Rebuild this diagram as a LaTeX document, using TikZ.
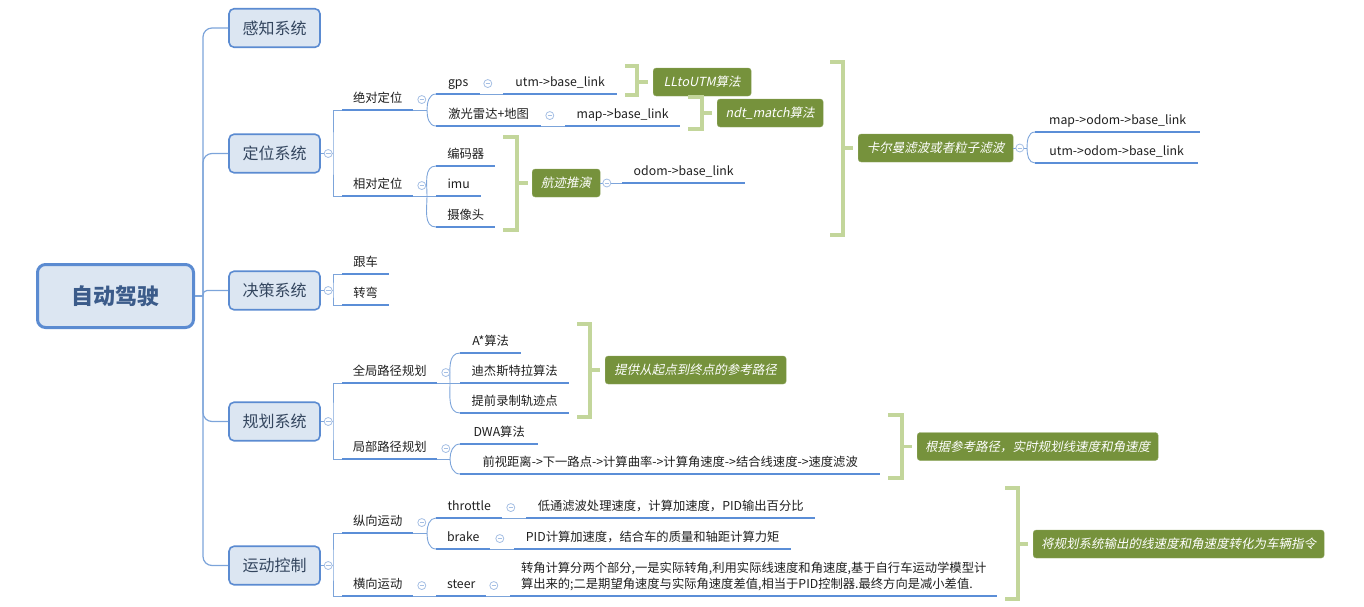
\documentclass[tikz,border=0pt]{standalone}
\usepackage{fontspec}
\setmainfont{Noto Sans CJK SC}
\newfontfamily\slfont[FakeSlant=0.2]{Noto Sans CJK SC}
\usetikzlibrary{positioning}
\definecolor{boxfill}{HTML}{DCE6F2}
\definecolor{boxline}{HTML}{5B8BD1}
\definecolor{rootblue}{HTML}{3B5B8A}
\definecolor{topicgray}{HTML}{33455E}
\definecolor{inkgray}{HTML}{1F1F1F}
\definecolor{linkblue}{HTML}{7CA4DA}
\definecolor{lineblue}{HTML}{5B8ED7}
\definecolor{foldblue}{HTML}{A5BFE4}
\definecolor{notegreen}{HTML}{76923C}
\definecolor{sage}{HTML}{C3D69B}

\begin{document}
\begin{tikzpicture}[
    x=1pt, y=-1pt,
    every node/.style={font=\fontsize{12.3}{16}\selectfont, text=inkgray},
    root/.style={draw=boxline, line width=3pt, rounded corners=8pt, fill=boxfill, minimum width=156pt, minimum height=63pt, font=\fontsize{22}{26}\selectfont\bfseries, text=rootblue},
    topic/.style={draw=boxline, line width=1.6pt, rounded corners=5pt, fill=boxfill, minimum width=91pt, minimum height=38.5pt, font=\fontsize{16}{20}\selectfont, text=topicgray},
    leaf/.style={anchor=south west, inner xsep=0pt, inner ysep=4pt, text height=9.5pt, text depth=3pt},
    longleaf/.style={anchor=south west, inner xsep=0pt, inner ysep=4pt, text depth=3pt, align=left},
    note/.style={anchor=west, fill=notegreen, draw=notegreen!80!white, rounded corners=3pt, minimum height=28pt, inner xsep=0pt, text=white, font=\fontsize{12.5}{15}\selectfont\slfont},
    fold/.style={circle, draw=foldblue, line width=0.8pt, fill=white, minimum size=8pt, inner sep=0pt,
        path picture={\draw[foldblue, line width=0.8pt] ([xshift=-2.3pt]path picture bounding box.center) -- ([xshift=2.3pt]path picture bounding box.center);}},
    trunk/.style={draw=linkblue, line width=1.2pt, rounded corners=9pt},
    conn/.style={draw=linkblue, line width=0.9pt},
    underl/.style={draw=lineblue, line width=2.3pt},
    brace/.style={draw=sage, line width=3.8pt}
]
\useasboundingbox (0,0) rectangle (1364,606);

% root and systems
\node[root] (auto) at (115.5,296) {自动驾驶};
\node[topic] (sense) at (274.5,28) {感知系统};
\node[topic] (loc) at (274.5,153.5) {定位系统};
\node[topic] (dec) at (274.5,290.5) {决策系统};
\node[topic] (plan) at (274.5,421.5) {规划系统};
\node[topic] (ctrl) at (274.5,565.5) {运动控制};

\coordinate (tk) at (203,296);
\draw[trunk] (auto.east) -- (tk);
\draw[trunk] (tk) |- (sense.west);
\draw[trunk] (tk) |- (loc.west);
\draw[trunk, rounded corners=4pt] (tk) |- (dec.west);
\draw[trunk] (tk) |- (plan.west);
\draw[trunk] (tk) |- (ctrl.west);

% second level
\node[leaf, minimum width=71pt] (abs) at (342,110) {绝对定位};
\node[leaf, minimum width=71pt] (rel) at (342,196) {相对定位};
\node[leaf, minimum width=47pt] (follow) at (342,274) {跟车};
\node[leaf, minimum width=47pt] (turn) at (342,305) {转弯};
\node[leaf, minimum width=95pt] (glob) at (342,383) {全局路径规划};
\node[leaf, minimum width=95pt] (local) at (342,459) {局部路径规划};
\node[leaf, minimum width=71pt] (lon) at (342,533) {纵向运动};
\node[leaf, minimum width=71pt] (lat) at (342,596) {横向运动};

\coordinate (locj) at (333,153.5);
\coordinate (decj) at (333,290.5);
\coordinate (planj) at (333,421.5);
\coordinate (ctrlj) at (333,565.5);
\draw[conn] (loc.east) -- (locj);
\draw[conn] (abs.south west) -| (locj) |- (rel.south west);
\draw[conn] (dec.east) -- (decj);
\draw[conn] (follow.south west) -| (decj) |- (turn.south west);
\draw[conn] (plan.east) -- (planj);
\draw[conn] (glob.south west) -| (planj) |- (local.south west);
\draw[conn] (ctrl.east) -- (ctrlj);
\draw[conn] (lon.south west) -| (ctrlj) |- (lat.south west);

% localisation
\node[leaf, minimum width=44pt] (gps) at (436,94) {gps};
\node[leaf, minimum width=114pt] (utm) at (503,94) {utm->base\_link};
\node[leaf, minimum width=105pt] (laser) at (436,126) {激光雷达+地图};
\node[leaf, minimum width=115pt] (mapb) at (565,126) {map->base\_link};
\node[leaf, minimum width=59pt] (enc) at (436,166) {编码器};
\node[leaf, minimum width=45pt] (imu) at (436,196) {imu};
\node[leaf, minimum width=59pt] (cam) at (436,227) {摄像头};
\node[leaf, minimum width=123pt] (odom) at (622,183) {odom->base\_link};
\node[leaf, minimum width=165pt] (mob) at (1035,132) {map->odom->base\_link};
\node[leaf, minimum width=163pt] (uob) at (1035,163) {utm->odom->base\_link};

\node[note, minimum width=98pt] (llutm) at (653,82) {LLtoUTM算法};
\node[note, minimum width=106pt] (ndt) at (717,113) {ndt\_match算法};
\node[note, minimum width=68pt] (dr) at (532,183) {航迹推演};
\node[note, minimum width=155pt] (kal) at (858,148) {卡尔曼滤波或者粒子滤波};

\coordinate (absj) at (427,110);
\coordinate (relj) at (427,196);
\coordinate (kalj) at (1027,148);
\draw[conn] (abs.south east) -- (absj);
\draw[conn] (absj) to[out=90, in=180] (gps.south west);
\draw[conn] (absj) to[out=-90, in=180] (laser.south west);
\draw[conn] (gps.south east) -- (utm.south west);
\draw[conn] (laser.south east) -- (mapb.south west);
\draw[conn] (rel.south east) -- (imu.south west);
\draw[conn] (relj) to[out=90, in=180] (enc.south west);
\draw[conn] (relj) to[out=-90, in=180] (cam.south west);
\draw[conn] (dr.east) -- (odom.south west);
\draw[conn] (kal.east) -- (kalj);
\draw[conn] (kalj) to[out=90, in=180] (mob.south west);
\draw[conn] (kalj) to[out=-90, in=180] (uob.south west);

\draw[brace] (625,66) -| (637,95) -- (625,95);
\draw[brace] (637,82) -- ([xshift=-5pt]llutm.west);
\draw[brace] (688,97) -| (702,129) -- (688,129);
\draw[brace] (702,113) -- ([xshift=-5pt]ndt.west);
\draw[brace] (503,137) -| (517,230) -- (503,230);
\draw[brace] (517,183) -- ([xshift=-4pt]dr.west);
\draw[brace] (830,62) -| (843,235) -- (830,235);
\draw[brace] (843,148) -- ([xshift=-5pt]kal.west);

% planning
\node[leaf, minimum width=61pt] (astar) at (460,353) {A*算法};
\node[leaf, minimum width=109pt] (dij) at (460,383) {迪杰斯特拉算法};
\node[leaf, minimum width=109pt] (rec) at (460,413) {提前录制轨迹点};
\node[leaf, minimum width=78pt] (dwa) at (460,444) {DWA算法};
\node[leaf, minimum width=420pt] (chain) at (460,474) {前视距离->下一路点->计算曲率->计算角速度->结合线速度->速度滤波};
\node[note, minimum width=181pt] (ref) at (605,370) {提供从起点到终点的参考路径};
\node[note, minimum width=241pt] (vel) at (917,446.5) {根据参考路径，实时规划线速度和角速度};

\coordinate (globj) at (450,383);
\coordinate (localj) at (450,459);
\draw[conn] (glob.south east) -- (dij.south west);
\draw[conn] (globj) to[out=90, in=180] (astar.south west);
\draw[conn] (globj) to[out=-90, in=180] (rec.south west);
\draw[conn] (local.south east) -- (localj);
\draw[conn] (localj) to[out=90, in=180] (dwa.south west);
\draw[conn] (localj) to[out=-90, in=180] (chain.south west);

\draw[brace] (577,324) -| (590,417) -- (577,417);
\draw[brace] (590,370) -- ([xshift=-5pt]ref.west);
\draw[brace] (888,415) -| (902,478) -- (888,478);
\draw[brace] (902,446.5) -- ([xshift=-5pt]vel.west);

% motion control
\node[leaf, minimum width=66pt] (throttle) at (436,518) {throttle};
\node[leaf, minimum width=289pt] (lpf) at (526,518) {低通滤波处理速度，计算加速度，PID输出百分比};
\node[leaf, minimum width=54pt] (brake) at (436,549) {brake};
\node[leaf, minimum width=277pt] (pidf) at (514,549) {PID计算加速度，结合车的质量和轴距计算力矩};
\node[leaf, minimum width=50pt] (steer) at (436,596) {steer};
\node[longleaf, minimum width=487pt] (steerx) at (510,596) {转角计算分两个部分,一是实际转角,利用实际线速度和角速度,基于自行车运动学模型计\\算出来的;二是期望角速度与实际角速度差值,相当于PID控制器.最终方向是减小差值.};
\node[note, minimum width=291pt] (cmd) at (1033,544) {将规划系统输出的线速度和角速度转化为车辆指令};

\coordinate (lonj) at (427,533);
\draw[conn] (lon.south east) -- (lonj);
\draw[conn] (lonj) to[out=90, in=180] (throttle.south west);
\draw[conn] (lonj) to[out=-90, in=180] (brake.south west);
\draw[conn] (throttle.south east) -- (lpf.south west);
\draw[conn] (brake.south east) -- (pidf.south west);
\draw[conn] (lat.south east) -- (steer.south west);
\draw[conn] (steer.south east) -- (steerx.south west);

\draw[brace] (1005,488) -| (1018,599) -- (1005,599);
\draw[brace] (1018,544) -- ([xshift=-5pt]cmd.west);

% underlines
\foreach \n in {abs,rel,follow,turn,glob,local,lon,lat,gps,utm,laser,mapb,enc,imu,cam,odom,mob,uob,astar,dij,rec,dwa,chain,throttle,lpf,brake,pidf,steer,steerx}
    \draw[underl] (\n.south west) -- (\n.south east);

% fold marks
\node[fold, right=3pt of loc] (locf) {};
\node[fold, right=3pt of dec] (decf) {};
\node[fold, right=3pt of plan] (planf) {};
\node[fold, right=3pt of ctrl] (ctrlf) {};
\node[fold, right=4pt of abs] (absf) {};
\node[fold, right=4pt of rel] (relf) {};
\node[fold, right=4pt of glob] (globf) {};
\node[fold, right=4pt of local] (localf) {};
\node[fold, right=4pt of lon] (lonf) {};
\node[fold, right=4pt of lat] (latf) {};
\node[fold, right=3pt of gps] (gpsf) {};
\node[fold, right=4pt of laser] (laserf) {};
\node[fold, right=4pt of throttle] (throttlef) {};
\node[fold, right=5pt of brake] (brakef) {};
\node[fold, right=3pt of steer] (steerf) {};
\node[fold, right=2pt of dr] (drf) {};
\node[fold, right=2pt of kal] (kalf) {};
\end{tikzpicture}
\end{document}
